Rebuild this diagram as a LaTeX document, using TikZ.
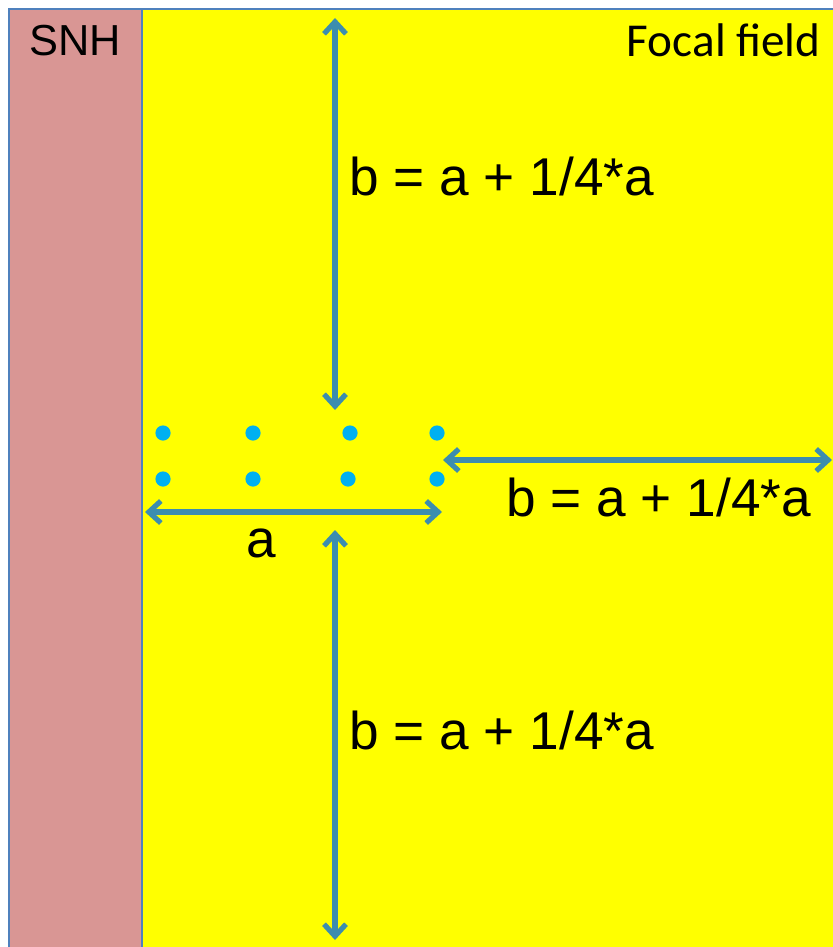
\documentclass[tikz,border=0pt]{standalone}
\usepackage{fontspec}
\setmainfont{Liberation Sans}
\newfontfamily\calibri{Carlito}
\usetikzlibrary{arrows.meta}
\definecolor{snhPink}{HTML}{D99694}
\definecolor{fieldYellow}{HTML}{FFFF00}
\definecolor{frameBlue}{HTML}{4F81BD}
\definecolor{arrowBlue}{HTML}{3C8DAF}
\definecolor{dotCyan}{HTML}{00B0F0}

\begin{document}
\begin{tikzpicture}[x=0.5pt, y=-0.5pt,
    dim/.style={draw=arrowBlue, line width=2.6pt,
      {Straight Barb[length=6pt, width=11pt]}-{Straight Barb[length=6pt, width=11pt]}},
    lbl/.style={inner sep=0pt, anchor=base west, font=\fontsize{26.6}{30}\selectfont}]
    \useasboundingbox (0,0) rectangle (833,947);
    % strips
    \node[draw=frameBlue, line width=1pt, fill=snhPink, inner sep=0pt,
          minimum width=66.5pt, minimum height=480pt, anchor=north west] (snh) at (8,8) {};
    \node[draw=frameBlue, line width=1pt, fill=fieldYellow, inner sep=0pt,
          minimum width=400pt, minimum height=480pt, anchor=north west] (field) at (141,8) {};
    \node[inner sep=0pt, anchor=base west, font=\fontsize{21.7}{25}\selectfont] (snhtext) at (29,56) {SNH};
    \node[inner sep=0pt, anchor=base east, font=\calibri\fontsize{23.6}{27}\selectfont] (fieldtext) at (821,57) {Focal field};
    % sampling points
    \foreach \i/\x/\y in {1/163/433,2/253/433,3/350/433,4/437/433,
                          5/163/479,6/253/479,7/348/479,8/437/479} {
      \fill[dotCyan] (\x,\y) circle (3.8pt) coordinate (d\i);
    }
    % dimension arrows
    \coordinate (topend) at (335,18);
    \coordinate (topstart) at (335,410);
    \coordinate (botstart) at (335,530);
    \coordinate (botend) at (335,940);
    \coordinate (aleft) at (145,512);
    \coordinate (aright) at (442,512);
    \coordinate (rleft) at (443,460);
    \coordinate (rright) at (832,460);
    \draw[dim] (topstart) -- (topend);
    \draw[dim] (botstart) -- (botend);
    \draw[dim] (aleft) -- (aright);
    \draw[dim] (rleft) -- (rright);
    \node[lbl] (btop) at (349,195) {b = a + 1/4*a};
    \node[lbl] (bright) at (506,516) {b = a + 1/4*a};
    \node[lbl] (bbot) at (349,749) {b = a + 1/4*a};
    \node[lbl] (alabel) at (246,557) {a};
\end{tikzpicture}
\end{document}
